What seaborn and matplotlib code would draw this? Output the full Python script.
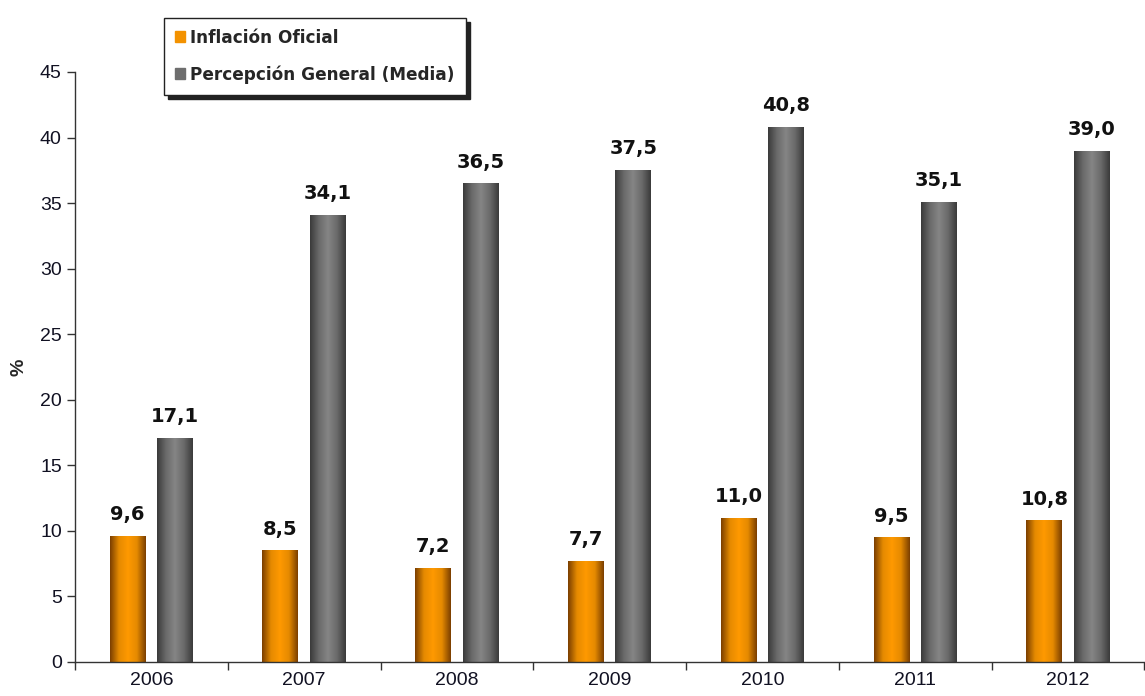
import pandas as pd
import numpy as np
import matplotlib.pyplot as plt
import seaborn as sns
from matplotlib.colors import LinearSegmentedColormap

# Datos del grafico
anios = ['2006', '2007', '2008', '2009', '2010', '2011', '2012']
inflacion_oficial = [9.6, 8.5, 7.2, 7.7, 11.0, 9.5, 10.8]
percepcion_media = [17.1, 34.1, 36.5, 37.5, 40.8, 35.1, 39.0]
series = ['Inflación Oficial', 'Percepción General (Media)']

datos = pd.DataFrame({
    'anio': anios * 2,
    'valor': inflacion_oficial + percepcion_media,
    'serie': [series[0]] * len(anios) + [series[1]] * len(anios),
})

sns.set_style('white')
plt.rcParams['font.family'] = ['Liberation Sans', 'DejaVu Sans']

fig = plt.figure(figsize=(11.45, 6.96), dpi=100)
ax = fig.add_axes([0.0655, 0.049, 0.934, 0.8476])

colores = {series[0]: '#F39200', series[1]: '#6E6E6E'}
sns.barplot(data=datos, x='anio', y='valor', hue='serie', palette=colores,
            width=0.62, gap=0.24, ax=ax, legend=False, saturation=1)

# Degradado horizontal en cada barra
cmaps = {
    series[0]: LinearSegmentedColormap.from_list('nar', ['#7A3E00', '#E58A00', '#FF9900', '#E58A00', '#7A3E00']),
    series[1]: LinearSegmentedColormap.from_list('gri', ['#3A3A3A', '#6A6A6A', '#858585', '#6A6A6A', '#3A3A3A']),
}
grad = np.linspace(0, 1, 256).reshape(1, -1)
barras = ax.patches
for i, bar in enumerate(barras):
    s = series[0] if i < len(anios) else series[1]
    x0, y0 = bar.get_x(), bar.get_y()
    w, h = bar.get_width(), bar.get_height()
    im = ax.imshow(grad, cmap=cmaps[s], aspect='auto',
                   extent=[x0, x0 + w, y0, y0 + h], zorder=bar.get_zorder() + 0.1)
    im.set_clip_path(bar)
    ax.text(x0 + w / 2, y0 + h + 0.9, f'{h:.1f}'.replace('.', ','),
            ha='center', va='bottom', fontsize=14, fontweight='bold',
            family=['DejaVu Sans'], color='#111111')

ax.set_xlim(-0.5, len(anios) - 0.5)
ax.set_ylim(0, 45)
ax.set_yticks(range(0, 46, 5))
ax.set_xticks(np.arange(len(anios)))
ax.set_xticklabels(anios)
ax.set_xticks(np.arange(len(anios) + 1) - 0.5, minor=True)
ax.tick_params(axis='x', which='major', length=0, labelsize=14, pad=7, labelcolor='#111122')
ax.tick_params(axis='x', which='minor', length=6, width=1, color='#333333', direction='out', bottom=True)
ax.tick_params(axis='y', length=6, width=1, color='#333333', direction='out', left=True,
               labelsize=14, labelcolor='#111122')
ax.set_xlabel('')
ax.set_ylabel('%', fontsize=14, fontweight='bold', labelpad=9)

for lado in ['top', 'right']:
    ax.spines[lado].set_visible(False)
for lado in ['left', 'bottom']:
    ax.spines[lado].set_color('#333333')
    ax.spines[lado].set_linewidth(1)

# Leyenda
handles = [plt.Rectangle((0, 0), 1, 1, color=colores[s]) for s in series]
ley = fig.legend(handles, series, loc='upper left', bbox_to_anchor=(0.136, 0.987),
                 frameon=True, fancybox=False, shadow={'color': '#222222', 'alpha': 1, 'ox': 3, 'oy': -3},
                 handlelength=0.6, handleheight=0.6,
                 handletextpad=0.3, labelspacing=1.1, borderpad=0.65,
                 prop={'family': ['DejaVu Sans'], 'weight': 'bold', 'size': 12.2})
ley.get_frame().set_edgecolor('#222222')
ley.get_frame().set_linewidth(1)

fig.savefig('out.png', dpi=100)
